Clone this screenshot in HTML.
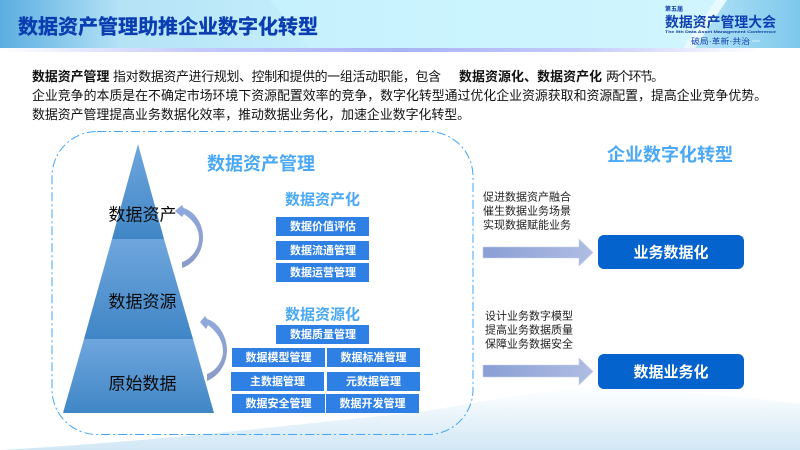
<!DOCTYPE html>
<html><head><meta charset="utf-8"><style>
html,body{margin:0;padding:0;background:#fff}
svg{display:block}
text{font-family:"Liberation Sans","Noto Sans CJK SC",sans-serif}
.b{font-weight:700}
.box{font-size:11px;font-weight:700;fill:#fff;text-anchor:middle;dominant-baseline:central;transform:translateY(1px)}
.sm{font-size:11px;fill:#222;dominant-baseline:central;transform:translateY(0.5px)}
.lvl{font-size:17px;fill:#0a0a0a;text-anchor:middle;dominant-baseline:central;transform:translateY(1px)}
.body{font-size:12.9px;fill:#111;dominant-baseline:central;transform:translateY(0.5px)}
.h{font-weight:700;fill:#4aa8f5;text-anchor:middle;dominant-baseline:central;transform:translateY(1px)}
.w{font-size:15px;font-weight:700;fill:#fff;text-anchor:middle;dominant-baseline:central;transform:translateY(1px)}
</style></head><body>
<svg width="800" height="450" viewBox="0 0 800 450" xmlns="http://www.w3.org/2000/svg">
<defs>
<linearGradient id="hd" x1="0" x2="1" y1="0" y2="0"><stop offset="0" stop-color="#5cade0"/><stop offset="0.39" stop-color="#b4e3f6"/><stop offset="1" stop-color="#c4eefb"/></linearGradient>
<linearGradient id="hd2" x1="0" x2="1" y1="0" y2="0"><stop offset="0" stop-color="#c0f0fd"/><stop offset="1" stop-color="#d2f6fe"/></linearGradient>
<linearGradient id="hd3" x1="0" x2="1" y1="0" y2="0"><stop offset="0" stop-color="#b8e6f8"/><stop offset="1" stop-color="#7ec8ec"/></linearGradient>
<linearGradient id="st" x1="0" x2="1" y1="0" y2="0"><stop offset="0" stop-color="#fff"/><stop offset="0.25" stop-color="#c2c9fa"/><stop offset="0.5" stop-color="#a9b3f4"/><stop offset="0.72" stop-color="#c2c9fa"/><stop offset="0.95" stop-color="#fff"/></linearGradient>
<linearGradient id="wv" gradientUnits="userSpaceOnUse" x1="0" x2="0" y1="392" y2="450"><stop offset="0" stop-color="#fbfeff"/><stop offset="1" stop-color="#d2e7f5"/></linearGradient>
<linearGradient id="py" x1="0" x2="0" y1="0" y2="1"><stop offset="0" stop-color="#6fa6dd"/><stop offset="1" stop-color="#4086c6"/></linearGradient>
<linearGradient id="ar" x1="0" x2="1" y1="0" y2="0"><stop offset="0" stop-color="#8a9fd6"/><stop offset="1" stop-color="#afbde2"/></linearGradient>
<linearGradient id="cv" x1="0" x2="0" y1="0" y2="1"><stop offset="0" stop-color="#8fa8de"/><stop offset="1" stop-color="#8c9bc6"/></linearGradient>
</defs>

<path d="M0 450 C150 442 300 424 420 412 C480 402 550 388 600 388 C670 390 740 396 800 404 V450 Z" fill="url(#wv)"/>

<rect x="0" y="0" width="800" height="48" fill="url(#hd2)"/>
<path d="M0 0H270L310 48H0Z" fill="url(#hd)"/>
<path d="M727 0H800V48H683Z" fill="url(#hd3)"/>
<path d="M716 0H727L695 48H683Z" fill="#e9fafe"/>
<rect x="0" y="48" width="800" height="4" fill="url(#st)"/>
<text x="18" y="33.500" font-size="20" class="b" fill="#0a3db0" stroke="#0a3db0" stroke-width="0.35" textLength="300" lengthAdjust="spacingAndGlyphs">数据资产管理助推企业数字化转型</text>

<text x="665" y="11" font-size="6" class="b" fill="#0f3fb0">第五届</text>
<text x="665" y="27" font-size="14" class="b" fill="#0f3fb0" textLength="111" lengthAdjust="spacingAndGlyphs">数据资产管理大会</text>
<text x="665" y="33" font-size="4" class="b" fill="#123a9c" textLength="111" lengthAdjust="spacingAndGlyphs">The 5th Data Asset Management Conference</text>
<text x="691" y="44" font-size="8" fill="#123fb0" textLength="59" lengthAdjust="spacingAndGlyphs">破局·革新·共治</text>
<path d="M681 41H689M752 41H760" stroke="#e8fbff" stroke-width="0.7"/>

<text x="32" y="76" class="body b">数据资产管理</text>
<text x="113" y="76" class="body" textLength="328" lengthAdjust="spacing">指对数据资产进行规划、控制和提供的一组活动职能，包含</text>
<text x="459" y="76" class="body b" textLength="143" lengthAdjust="spacing">数据资源化、数据资产化</text>
<text x="606" y="76" class="body" textLength="58" lengthAdjust="spacing">两个环节。</text>
<text x="32" y="95" class="body" textLength="735" lengthAdjust="spacing">企业竞争的本质是在不确定市场环境下资源配置效率的竞争，数字化转型通过优化企业资源获取和资源配置，提高企业竞争优势。</text>
<text x="32" y="114" class="body" textLength="438" lengthAdjust="spacing">数据资产管理提高业务数据化效率，推动数据业务化，加速企业数字化转型。</text>

<rect x="52" y="131.500" width="421" height="303" rx="45" ry="45" fill="none" stroke="#42a5f5" stroke-width="1" stroke-dasharray="9 3 2 3"/>

<path d="M138 144L164 239H112Z" fill="url(#py)"/>
<path d="M112 239H164L193 339H84Z" fill="url(#py)"/>
<path d="M84 339H193L214 413H63Z" fill="url(#py)"/>
<text x="142.500" y="214" class="lvl">数据资产</text>
<text x="142.500" y="301" class="lvl">数据资源</text>
<text x="142.500" y="383" class="lvl">原始数据</text>

<path d="M175 211L182 205L183.500 208C194 211 203 223 203 237C203 252 194 264 182 268L182 262C191 259 199 249 199 238C199 228 193 220 184 214L182 217Z" fill="url(#cv)"/>
<path d="M200 322L205 316L207 319C218 322 227 336 227 350C227 364 219 376 207 381L207 374C216 371 223 361 223 351C223 340 216 331 208 325L206 329Z" fill="url(#cv)"/>

<text x="261" y="163" font-size="18" class="h">数据资产管理</text>
<text x="322.500" y="199" font-size="15" class="h">数据资产化</text>
<text x="322.500" y="314" font-size="15" class="h">数据资源化</text>
<text x="670" y="154" font-size="18" class="h">企业数字化转型</text>

<g fill="#2f80e4">
<rect x="276" y="217" width="93" height="19"/>
<rect x="276" y="241" width="93" height="19"/>
<rect x="276" y="263" width="93" height="19"/>
<rect x="276" y="325" width="93" height="19"/>
<rect x="232" y="348" width="93" height="19"/>
<rect x="327" y="348" width="93" height="19"/>
<rect x="231" y="372" width="93" height="19"/>
<rect x="327" y="372" width="93" height="19"/>
<rect x="232" y="394" width="93" height="19"/>
<rect x="326" y="394" width="93" height="19"/>
</g>
<text x="323" y="226" class="box">数据价值评估</text>
<text x="323" y="250" class="box">数据流通管理</text>
<text x="323" y="272" class="box">数据运营管理</text>
<text x="323" y="334" class="box">数据质量管理</text>
<text x="278.500" y="357" class="box">数据模型管理</text>
<text x="373.500" y="357" class="box">数据标准管理</text>
<text x="277.500" y="381" class="box">主数据管理</text>
<text x="373.500" y="381" class="box">元数据管理</text>
<text x="278.500" y="403" class="box">数据安全管理</text>
<text x="372.500" y="403" class="box">数据开发管理</text>

<text x="483" y="197" class="sm">促进数据资产融合</text>
<text x="483" y="211" class="sm">催生数据业务场景</text>
<text x="483" y="225" class="sm">实现数据赋能业务</text>
<text x="485" y="316" class="sm">设计业务数字模型</text>
<text x="485" y="330" class="sm">提高业务数据质量</text>
<text x="485" y="344" class="sm">保障业务数据安全</text>

<path d="M483 247H579V239L593 252.500L579 266V258H483Z" fill="url(#ar)" stroke="#c5d0ec" stroke-width="0.6"/>
<path d="M483 365H579V358L593 371.500L579 385V377H483Z" fill="url(#ar)" stroke="#c5d0ec" stroke-width="0.6"/>

<rect x="598" y="235" width="146" height="34" rx="6" fill="#0563cd"/>
<rect x="598" y="354" width="146" height="35" rx="6" fill="#0563cd"/>
<text x="671" y="252" class="w">业务数据化</text>
<text x="671" y="371.500" class="w">数据业务化</text>
</svg>
</body></html>
